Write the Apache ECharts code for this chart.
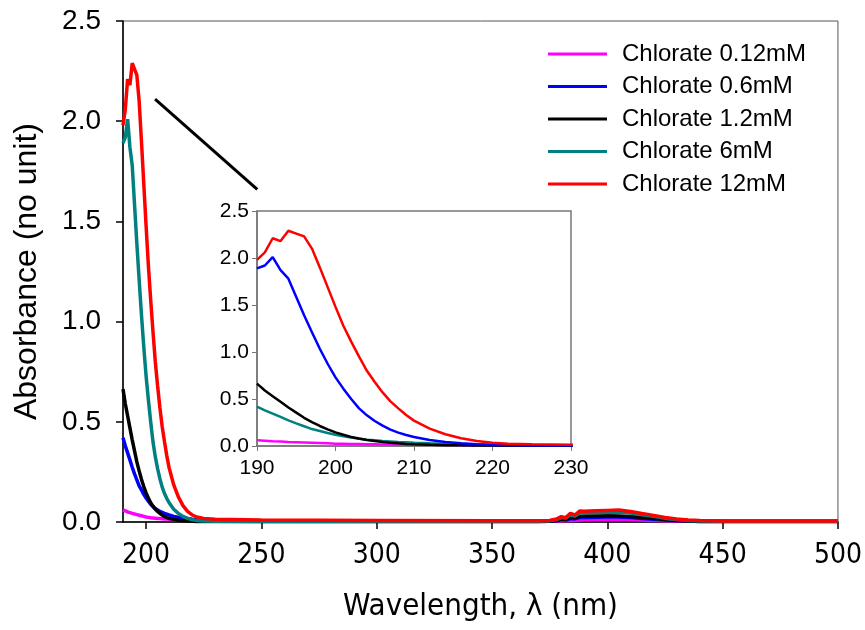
<!DOCTYPE html>
<html>
<head>
<meta charset="utf-8">
<script src="https://cdn.jsdelivr.net/npm/echarts@6/dist/echarts.min.js"></script>
<style>html,body{margin:0;padding:0;background:#fff}#c{width:865px;height:630px}</style>
</head>
<body>
<div id="c"></div>
<script>
var wavelengths = [190,191,192,193,194,195,196,197,198,199,200,201,202,203,204,205,206,207,208,209,210,212,214,216,218,220,222,225,230,250,300,350,370,375,378,380,382,384,386,388,390,395,400,405,410,415,420,425,430,435,440,450,500];

var seriesNames = ['Chlorate 0.12mM','Chlorate 0.6mM','Chlorate 1.2mM','Chlorate 6mM','Chlorate 12mM'];

var chlorate012 = [0.06,0.055,0.05,0.047,0.043,0.04,0.037,0.034,0.031,0.028,0.025,0.023,0.021,0.02,0.019,0.018,0.017,0.016,0.015,0.015,0.014,0.013,0.012,0.011,0.011,0.01,0.009,0.008,0.007,0.005,0.004,0.004,0.004,0.004,0.005,0.006,0.006,0.008,0.008,0.01,0.011,0.012,0.013,0.013,0.012,0.01,0.008,0.006,0.005,0.004,0.004,0.004,0.004];
var chlorate06 = [0.42,0.38,0.345,0.31,0.273,0.24,0.21,0.18,0.16,0.138,0.12,0.104,0.089,0.077,0.067,0.06,0.053,0.048,0.043,0.039,0.035,0.028,0.024,0.02,0.017,0.014,0.012,0.008,0.004,0.003,0.003,0.003,0.003,0.004,0.007,0.012,0.01,0.017,0.016,0.022,0.023,0.024,0.025,0.025,0.022,0.018,0.014,0.01,0.007,0.005,0.003,0.003,0.003];
var chlorate12 = [0.663,0.59,0.53,0.47,0.41,0.355,0.30,0.255,0.213,0.177,0.145,0.12,0.096,0.079,0.064,0.053,0.043,0.035,0.028,0.022,0.018,0.013,0.009,0.007,0.005,0.004,0.003,0.003,0.002,0.002,0.002,0.002,0.002,0.004,0.008,0.015,0.012,0.022,0.02,0.028,0.03,0.03,0.031,0.03,0.027,0.022,0.017,0.012,0.008,0.005,0.003,0.002,0.002];
var chlorate6 = [1.89,1.92,2.01,1.87,1.78,1.585,1.39,1.21,1.035,0.875,0.73,0.61,0.50,0.40,0.326,0.266,0.216,0.174,0.142,0.117,0.096,0.064,0.043,0.028,0.018,0.011,0.008,0.005,0.004,0.004,0.004,0.004,0.004,0.006,0.012,0.022,0.02,0.035,0.03,0.045,0.045,0.047,0.048,0.05,0.045,0.036,0.028,0.018,0.012,0.008,0.005,0.004,0.004];
var chlorate120 = [1.98,2.06,2.21,2.18,2.29,2.26,2.23,2.10,1.90,1.69,1.48,1.28,1.11,0.95,0.80,0.68,0.57,0.475,0.40,0.33,0.27,0.185,0.125,0.082,0.053,0.035,0.025,0.018,0.014,0.01,0.008,0.006,0.006,0.008,0.015,0.027,0.022,0.043,0.035,0.055,0.054,0.056,0.058,0.06,0.052,0.042,0.033,0.022,0.015,0.01,0.007,0.005,0.005];

var mainTicksX = [200,250,300,350,400,450,500];
var connectorX = [203.9, 248.2];
var connectorY = [2.11, 1.66];

var allValues = [chlorate012, chlorate06, chlorate12, chlorate6, chlorate120];
var mainColors = ['#ff00ff','#0000ff','#000000','#008080','#ff0000'];
var insetColors = ['#ff00ff','#008080','#000000','#0000ff','#ff0000'];

function pairs(vals){ return wavelengths.map(function(w,i){ return [w, vals[i]]; }); }

var series = [];
allValues.forEach(function(v, i){
  series.push({name: seriesNames[i], type:'line', xAxisIndex:0, yAxisIndex:0, data: pairs(v),
    showSymbol:false, symbol:'none', lineStyle:{width:3.5, color: mainColors[i]}, itemStyle:{color: mainColors[i]}, animation:false, z: 2+i});
});
allValues.forEach(function(v, i){
  series.push({name: seriesNames[i] + ' (inset)', type:'line', xAxisIndex:1, yAxisIndex:1, data: pairs(v),
    showSymbol:false, symbol:'none', lineStyle:{width:2.5, color: insetColors[i]}, itemStyle:{color: insetColors[i]}, animation:false, z: 10+i});
});
series.push({name:'connector', type:'line', xAxisIndex:0, yAxisIndex:0,
  data: connectorX.map(function(x,i){return [x, connectorY[i]];}),
  showSymbol:false, symbol:'none', lineStyle:{width:3, color:'#000'}, animation:false, z: 20});

var chart = echarts.init(document.getElementById('c'), null, {renderer:'canvas'});
chart.setOption({
  backgroundColor:'#fff',
  animation:false,
  legend:{
    data: seriesNames,
    orient:'vertical', left:543, top:37,
    icon:'rect', itemWidth:59, itemHeight:3, itemGap:8.5,
    textStyle:{fontFamily:'Liberation Sans, Arial', fontSize:24, color:'#000', lineHeight:24, padding:[0,0,0,10]}
  },
  grid:[
    {left:123, right:27, top:21, bottom:108, show:true, borderColor:'#555', borderWidth:1},
    {left:257, width:314, top:211, height:235, show:true, borderColor:'#777', borderWidth:1.5, backgroundColor:'#fff'}
  ],
  xAxis:[
    {type:'value', gridIndex:0, min:190, max:500,
     name:'Wavelength, λ (nm)', nameLocation:'middle', nameGap:69,
     nameTextStyle:{fontFamily:'DejaVu Sans Condensed, DejaVu Sans', fontSize:31, color:'#000'},
     axisLine:{onZero:false, lineStyle:{color:'#000', width:1.5}},
     axisTick:{show:true, customValues: mainTicksX, length:7, inside:false, lineStyle:{color:'#000', width:1.5}},
     axisLabel:{customValues: mainTicksX, margin:20, fontFamily:'DejaVu Sans Condensed, DejaVu Sans', fontSize:28, color:'#000'},
     splitLine:{show:false}},
    {type:'value', gridIndex:1, min:190, max:230, interval:10,
     axisLine:{onZero:false, lineStyle:{color:'#777', width:1.5}},
     axisTick:{show:true, length:5, lineStyle:{color:'#777'}},
     axisLabel:{margin:12, fontFamily:'Liberation Sans, Arial', fontSize:21, color:'#000'},
     splitLine:{show:false}}
  ],
  yAxis:[
    {type:'value', gridIndex:0, min:0, max:2.5, interval:0.5,
     name:'Absorbance (no unit)', nameLocation:'middle', nameGap:80, nameRotate:90,
     nameTextStyle:{fontFamily:'Liberation Sans, Arial', fontSize:32, color:'#000'},
     axisLine:{show:true, onZero:false, lineStyle:{color:'#000', width:1.5}},
     axisTick:{show:true, length:7, lineStyle:{color:'#000', width:1.5}},
     axisLabel:{margin:22, fontFamily:'Liberation Sans, Arial', fontSize:28, color:'#000', formatter:function(v){return v.toFixed(1);}},
     splitLine:{show:false}},
    {type:'value', gridIndex:1, min:0, max:2.5, interval:0.5,
     axisLine:{show:true, onZero:false, lineStyle:{color:'#777', width:1.5}},
     axisTick:{show:true, length:5, lineStyle:{color:'#777'}},
     axisLabel:{margin:8, fontFamily:'Liberation Sans, Arial', fontSize:21, color:'#000', formatter:function(v){return v.toFixed(1);}},
     splitLine:{show:false}}
  ],
  series: series
});
</script>
</body>
</html>
